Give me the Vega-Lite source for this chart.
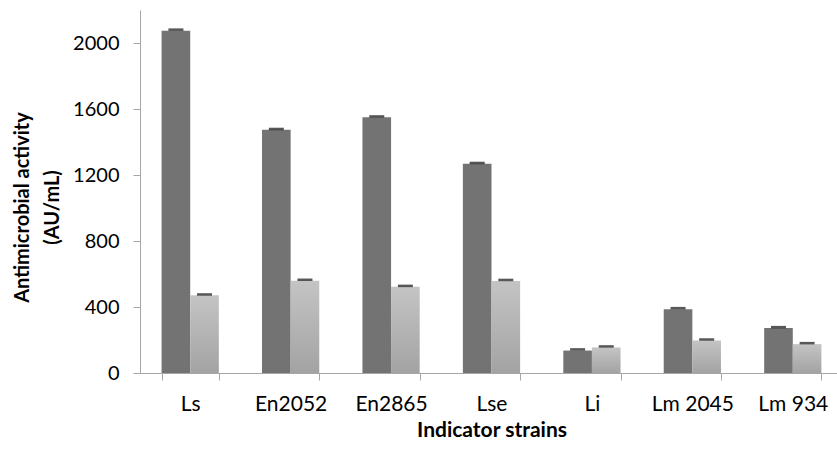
{
  "$schema": "https://vega.github.io/schema/vega-lite/v6.json",
  "autosize": "none",
  "width": 697,
  "height": 363,
  "padding": {"left": 140, "top": 10, "right": 0, "bottom": 77},
  "background": "white",
  "config": {
    "view": {"stroke": null},
    "font": "Lato",
    "axis": {
      "domainColor": "#a6a6a6",
      "tickColor": "#a6a6a6",
      "tickSize": 7,
      "labelColor": "black",
      "labelFont": "Lato",
      "labelFontSize": 20,
      "titleFont": "Lato",
      "titleFontWeight": "bold",
      "titleColor": "black",
      "grid": false
    }
  },
  "data": {
    "values": [
      {"strain": "Ls", "series": "A", "value": 2075, "upper": 2081},
      {"strain": "Ls", "series": "B", "value": 471, "upper": 476},
      {"strain": "En2052", "series": "A", "value": 1474, "upper": 1479},
      {"strain": "En2052", "series": "B", "value": 559, "upper": 565},
      {"strain": "En2865", "series": "A", "value": 1550, "upper": 1555},
      {"strain": "En2865", "series": "B", "value": 522, "upper": 528},
      {"strain": "Lse", "series": "A", "value": 1268, "upper": 1273},
      {"strain": "Lse", "series": "B", "value": 558, "upper": 564},
      {"strain": "Li", "series": "A", "value": 136, "upper": 143},
      {"strain": "Li", "series": "B", "value": 155, "upper": 161},
      {"strain": "Lm 2045", "series": "A", "value": 387, "upper": 393},
      {"strain": "Lm 2045", "series": "B", "value": 197, "upper": 203},
      {"strain": "Lm 934", "series": "A", "value": 272, "upper": 278},
      {"strain": "Lm 934", "series": "B", "value": 175, "upper": 181}
    ]
  },
  "encoding": {
    "x": {
      "field": "strain",
      "type": "nominal",
      "sort": ["Ls", "En2052", "En2865", "Lse", "Li", "Lm 2045", "Lm 934"],
      "scale": {"range": [0, 703], "paddingInner": 0.43, "paddingOuter": 0.215},
      "axis": {
        "title": "Indicator strains",
        "titleFontSize": 21,
        "labelFontSize": 21,
        "labelAngle": 0,
        "tickBand": "extent",
        "labelPadding": 13,
        "titlePadding": 5
      }
    },
    "xOffset": {"field": "series", "type": "nominal", "scale": {"domain": ["A", "B"], "paddingInner": 0, "paddingOuter": 0}},
    "y": {
      "field": "value",
      "type": "quantitative",
      "scale": {"domain": [0, 2200], "nice": false},
      "axis": {
        "title": ["Antimicrobial activity", "(AU/mL)"],
        "titleFontSize": 20,
        "format": "d",
        "values": [0, 400, 800, 1200, 1600, 2000],
        "labelPadding": 14,
        "titlePadding": 10,
        "titleLineHeight": 30,
        "titleY": 197
      }
    }
  },
  "layer": [
    {
      "transform": [{"filter": "datum.series === 'A'"}],
      "mark": {"type": "bar", "color": "#737373"}
    },
    {
      "transform": [{"filter": "datum.series === 'B'"}],
      "mark": {
        "type": "bar",
        "color": {
          "gradient": "linear",
          "x1": 0, "y1": 0, "x2": 0, "y2": 1,
          "stops": [
            {"offset": 0, "color": "#c3c4c3"},
            {"offset": 1, "color": "#a3a3a3"}
          ]
        }
      }
    },
    {
      "mark": {"type": "tick", "color": "#111111", "thickness": 2.5, "size": 15},
      "encoding": {"y": {"field": "upper", "type": "quantitative"}}
    }
  ]
}
